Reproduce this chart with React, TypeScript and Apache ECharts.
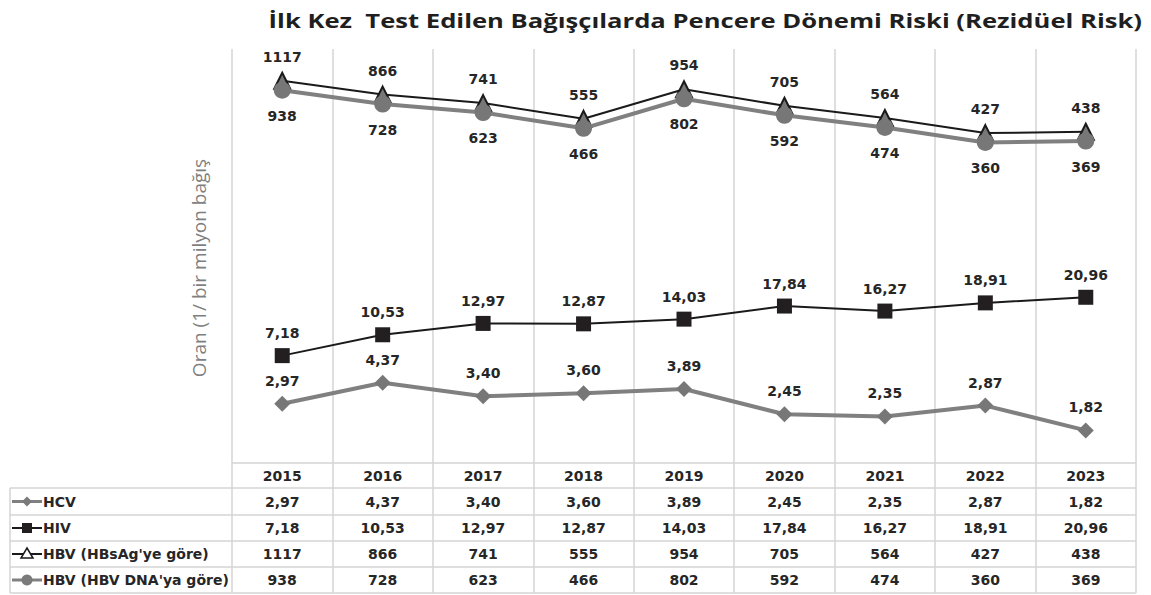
import React, { useEffect, useRef } from "react";
import * as echarts from "echarts";

const titleText = "İlk Kez  Test Edilen Bağışçılarda Pencere Dönemi Riski (Rezidüel Risk)";
const yAxisTitle = "Oran (1/ bir milyon bağış";
const years = ["2015", "2016", "2017", "2018", "2019", "2020", "2021", "2022", "2023"];
const hcv = [2.97, 4.37, 3.4, 3.6, 3.89, 2.45, 2.35, 2.87, 1.82];
const hiv = [7.18, 10.53, 12.97, 12.87, 14.03, 17.84, 16.27, 18.91, 20.96];
const hbvHbsag = [1117, 866, 741, 555, 954, 705, 564, 427, 438];
const hbvDna = [938, 728, 623, 466, 802, 592, 474, 360, 369];
const seriesNames = ["HCV", "HIV", "HBV (HBsAg'ye göre)", "HBV (HBV DNA'ya göre)"];

const fmtDec = (v: number) => v.toFixed(2).replace(".", ",");
const fmtInt = (v: number) => String(v);

const GRID_LEFT = 232;
const GRID_RIGHT_X = 1136;
const GRID_TOP = 49;
const GRID_BOTTOM_Y = 463;
const ROW_LINES = [488, 515, 541, 567, 593];
const ROW_CENTERS = [475.5, 501.5, 528, 554, 580];

const TITLE_FONT = "bold 20px 'Open Sans'";
const TITLE_LEFT = 268;
const TITLE_RIGHT = 1142;

const LABEL_FONT = {
  fontFamily: "DejaVu Sans",
  fontWeight: "bold" as const,
  fontSize: 14,
  color: "#262626",
};

function measure(text: string, font: string): number {
  const c = document.createElement("canvas").getContext("2d");
  if (!c) return 0;
  c.font = font;
  return c.measureText(text).width;
}

export default function App() {
  const ref = useRef<HTMLDivElement>(null);
  useEffect(() => {
    if (!ref.current) return;
    const chart = echarts.init(ref.current, undefined, { renderer: "svg" });

    const rows = [
      { name: seriesNames[0], values: hcv, fmt: fmtDec },
      { name: seriesNames[1], values: hiv, fmt: fmtDec },
      { name: seriesNames[2], values: hbvHbsag, fmt: fmtInt },
      { name: seriesNames[3], values: hbvDna, fmt: fmtInt },
    ];

    const tableAxes = rows.map((r, i) => ({
      type: "category" as const,
      position: "bottom" as const,
      data: years,
      boundaryGap: true,
      axisLine: { show: false },
      axisTick: { show: false },
      splitLine: { show: false },
      axisLabel: {
        ...LABEL_FONT,
        interval: 0,
        verticalAlign: "middle" as const,
        margin: ROW_CENTERS[i + 1] - GRID_BOTTOM_Y,
        formatter: (_v: string, idx: number) => r.fmt(r.values[idx]),
      },
    }));

    const graphics: any[] = [];
    ROW_LINES.forEach((y) => {
      graphics.push({
        type: "line",
        shape: { x1: 10, y1: y, x2: GRID_RIGHT_X, y2: y },
        style: { stroke: "#d4d4d4", lineWidth: 1.5 },
        silent: true,
      });
    });
    graphics.push({
      type: "line",
      shape: { x1: 10, y1: ROW_LINES[0], x2: 10, y2: ROW_LINES[4] },
      style: { stroke: "#d4d4d4", lineWidth: 1.5 },
      silent: true,
    });
    const iconCx = 27;
    rows.forEach((r, i) => {
      const cy = ROW_CENTERS[i + 1];
      const gray = i === 0 || i === 3;
      graphics.push({
        type: "line",
        shape: { x1: 12, y1: cy, x2: 42, y2: cy },
        style: { stroke: gray ? "#808080" : "#1a1a1a", lineWidth: gray ? 3 : 2 },
        silent: true,
      });
      if (i === 0) {
        graphics.push({
          type: "polygon",
          shape: { points: [[iconCx, cy - 5], [iconCx + 5, cy], [iconCx, cy + 5], [iconCx - 5, cy]] },
          style: { fill: "#7a7a7a" },
          silent: true,
        });
      } else if (i === 1) {
        graphics.push({
          type: "rect",
          shape: { x: iconCx - 5, y: cy - 5, width: 10, height: 10 },
          style: { fill: "#231f20" },
          silent: true,
        });
      } else if (i === 2) {
        graphics.push({
          type: "polygon",
          shape: { points: [[iconCx, cy - 6], [iconCx + 6, cy + 4], [iconCx - 6, cy + 4]] },
          style: { fill: "#ffffff", stroke: "#1a1a1a", lineWidth: 1.5 },
          silent: true,
        });
      } else {
        graphics.push({
          type: "circle",
          shape: { cx: iconCx, cy, r: 5.5 },
          style: { fill: "#7a7a7a" },
          silent: true,
        });
      }
      graphics.push({
        type: "text",
        x: 43,
        y: cy,
        style: {
          text: r.name,
          font: "bold 14px 'DejaVu Sans'",
          fill: "#262626",
          align: "left",
          verticalAlign: "middle",
        },
        silent: true,
      });
    });
    graphics.push({
      type: "text",
      x: 199,
      y: 268,
      rotation: Math.PI / 2,
      style: {
        text: yAxisTitle,
        font: "19px 'Open Sans'",
        fill: "#7f7f7f",
        align: "center",
        verticalAlign: "middle",
      },
      silent: true,
    });
    const tw = measure(titleText, TITLE_FONT);
    const sx = tw > 0 ? (TITLE_RIGHT - TITLE_LEFT) / tw : 1.1;
    graphics.push({
      type: "text",
      x: TITLE_RIGHT,
      y: 20,
      scaleX: sx,
      style: {
        text: titleText,
        font: TITLE_FONT,
        fill: "#1f1f1f",
        align: "right",
        verticalAlign: "middle",
      },
      silent: true,
    });

    const lbl = (fmt: (v: number) => string, dist: number, pos: "top" | "bottom") => ({
      show: true,
      position: pos,
      distance: dist,
      ...LABEL_FONT,
      formatter: (p: any) => fmt(p.value),
    });

    chart.setOption({
      animation: false,
      backgroundColor: "#ffffff",
      grid: {
        left: GRID_LEFT,
        right: 1151 - GRID_RIGHT_X,
        top: GRID_TOP,
        bottom: 595 - GRID_BOTTOM_Y,
      },
      xAxis: [
        {
          type: "category",
          position: "bottom",
          data: years,
          boundaryGap: true,
          axisLine: { show: true, lineStyle: { color: "#d4d4d4", width: 1.5 } },
          axisTick: {
            show: true,
            interval: 0,
            length: ROW_LINES[4] - GRID_BOTTOM_Y,
            lineStyle: { color: "#d4d4d4", width: 1.5 },
          },
          splitLine: { show: true, interval: 0, lineStyle: { color: "#d4d4d4", width: 1.5 } },
          axisLabel: {
            ...LABEL_FONT,
            interval: 0,
            verticalAlign: "middle",
            margin: ROW_CENTERS[0] - GRID_BOTTOM_Y,
          },
        },
        ...tableAxes,
      ],
      yAxis: {
        type: "log",
        logBase: 10,
        min: 1,
        max: 2000,
        axisLine: { show: false },
        axisTick: { show: false },
        axisLabel: { show: false },
        splitLine: { show: false },
      },
      graphic: graphics,
      series: [
        {
          name: seriesNames[0],
          type: "line",
          data: hcv,
          symbol: "diamond",
          symbolSize: 16,
          itemStyle: { color: "#777777" },
          lineStyle: { color: "#808080", width: 4 },
          label: lbl(fmtDec, 8, "top"),
          z: 2,
        },
        {
          name: seriesNames[1],
          type: "line",
          data: hiv,
          symbol: "rect",
          symbolSize: 15,
          itemStyle: { color: "#231f20" },
          lineStyle: { color: "#1a1a1a", width: 2 },
          label: lbl(fmtDec, 8, "top"),
          z: 2,
        },
        {
          name: seriesNames[2],
          type: "line",
          data: hbvHbsag,
          symbol: "triangle",
          symbolSize: 16,
          itemStyle: { color: "#777777", borderColor: "#1a1a1a", borderWidth: 2 },
          lineStyle: { color: "#1a1a1a", width: 2 },
          label: lbl(fmtInt, 8, "top"),
          z: 2,
        },
        {
          name: seriesNames[3],
          type: "line",
          data: hbvDna,
          symbol: "circle",
          symbolSize: 17,
          itemStyle: { color: "#777777" },
          lineStyle: { color: "#808080", width: 4 },
          label: lbl(fmtInt, 10, "bottom"),
          z: 3,
        },
      ],
    });
    return () => chart.dispose();
  }, []);
  return (
    <div
      ref={ref}
      style={{ position: "absolute", left: 0, top: 0, width: 1151, height: 595 }}
    />
  );
}
